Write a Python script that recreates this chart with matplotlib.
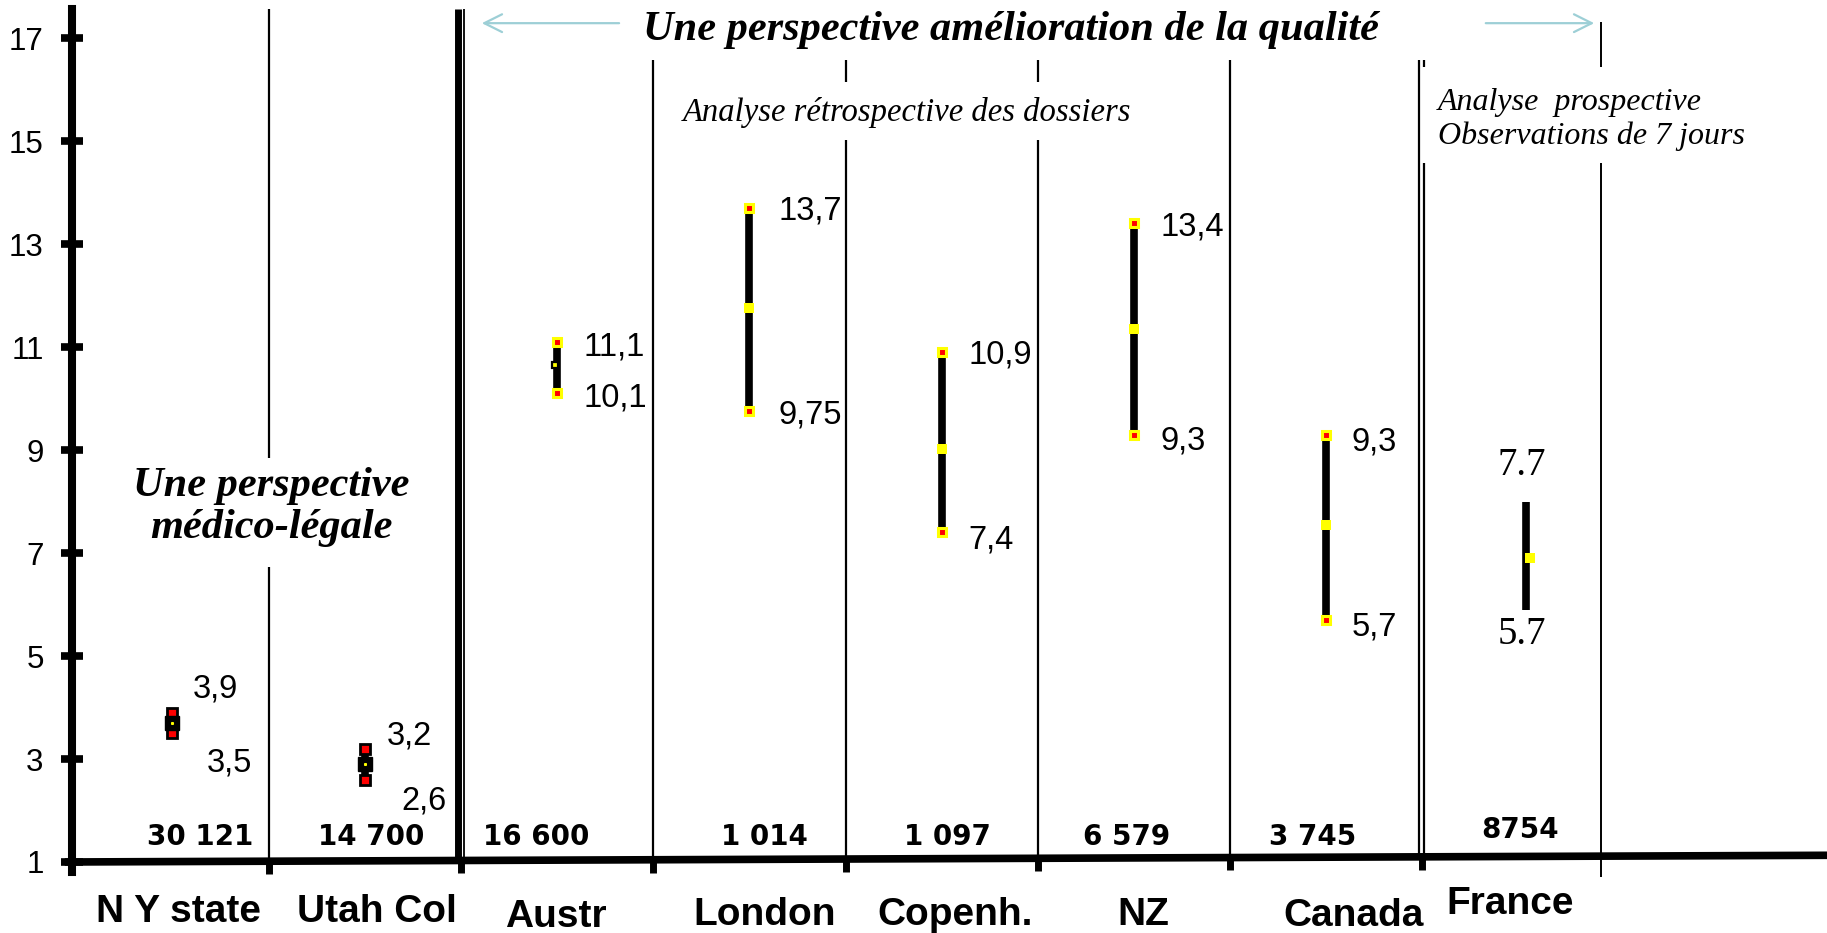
import matplotlib
matplotlib.use("Agg")
import matplotlib.pyplot as plt
import numpy as np

# ---------------- data ----------------
categories = ["N Y state", "Utah Col", "Austr", "London", "Copenh.", "NZ", "Canada", "France"]
low_vals = [3.5, 2.6, 10.1, 9.75, 7.4, 9.3, 5.7, 5.9]
high_vals = [3.9, 3.2, 11.1, 13.7, 10.9, 13.4, 9.3, 8.0]
mid_vals = [3.7, 2.9, 10.65, 11.75, 9.03, 11.35, 7.55, 6.9]
low_labels = ["3,5", "2,6", "10,1", "9,75", "7,4", "9,3", "5,7", "5.7"]
high_labels = ["3,9", "3,2", "11,1", "13,7", "10,9", "13,4", "9,3", "7.7"]
n_labels = ["30 121", "14 700", "16 600", "1 014", "1 097", "6 579", "3 745", "8754"]
yticks = [1, 3, 5, 7, 9, 11, 13, 15, 17]

# ---------------- layout ----------------
xpos = [0, 1, 2, 3, 4, 5, 6, 7.04]
hi_off = [(20, 24), (22, 13), (26, -5), (29, -3), (27, -3), (27, -4), (25, -7), (-4, 36)]
lo_off = [(34, -30), (37, -21), (26, -5), (29, -4), (27, -8), (27, -6), (25, -7), (-4, -25)]
n_off = [28, 6, -21, 15, 6, -7, -14, -6]
n_y = [1.49, 1.49, 1.49, 1.49, 1.49, 1.49, 1.49, 1.62]
cat_off = [(6, -50), (12, -50), (-1, -55), (15, -53), (13, -53), (9, -53), (27, -54), (-16, -42)]

BLUE = "#9dcfd6"
SANS = "Liberation Sans"
SERIF = "Liberation Serif"

fig = plt.figure(figsize=(18.27, 9.33), dpi=100)
ax = fig.add_axes([0, 0, 1, 1])
XL = (-0.897, 8.604)
ax.set_xlim(*XL)
ax.set_ylim(-0.379, 17.74)

for s in ["top", "right", "bottom"]:
    ax.spines[s].set_visible(False)
ax.spines["left"].set_position(("data", -0.52))
ax.spines["left"].set_linewidth(5.8)
ax.spines["left"].set_bounds(0.8, 17.57)
ax.set_xticks([])
ax.set_yticks(yticks)
ax.set_yticklabels([str(t) for t in yticks], fontfamily=SANS)
ax.tick_params(axis="y", direction="inout", length=15.6, width=5.5,
               labelsize=22.5, pad=13)
ax.patch.set_alpha(0)


def axis_y(x):
    return 1.0 + 0.13 * (x + 0.56) / (XL[1] + 0.56)


# tilted x axis
ax.plot([-0.56, XL[1]], [axis_y(-0.56), axis_y(XL[1])], color="black", lw=5.5,
        solid_capstyle="butt", zorder=3)

# separator lines (layout)
def vseg(x, segs, lw):
    for a, b in segs:
        if a is None:
            a = axis_y(x)
        ax.plot([x, x], [a, b], color="black", lw=lw, solid_capstyle="butt", zorder=2)

vseg(0.5, [(None, 6.73), (8.84, 17.57)], 1.6)
vseg(1.485, [(None, 17.57)], 5.0)
vseg(1.515, [(None, 17.57)], 1.3)
vseg(2.5, [(None, 16.57)], 1.6)
vseg(3.5, [(None, 15.02), (16.15, 16.57)], 1.6)
vseg(4.5, [(None, 15.02), (16.15, 16.57)], 1.6)
vseg(5.5, [(None, 16.57)], 1.6)
vseg(6.483, [(None, 16.57)], 1.6)
vseg(6.507, [(None, 14.57), (16.44, 16.57)], 1.6)
vseg(7.43, [(0.71, 14.57), (16.44, 17.31)], 1.4)

# ticks below the axis
for tx in [0.5, 1.5, 2.5, 3.5, 4.5, 5.5, 6.5]:
    ax.plot([tx, tx], [axis_y(tx) - 0.25, axis_y(tx)], color="black", lw=5,
            solid_capstyle="butt", zorder=3)

# ---------------- range bars ----------------
for i in range(len(categories)):
    x = xpos[i]
    ax.plot([x, x], [low_vals[i], high_vals[i]], color="black", lw=5.5,
            solid_capstyle="butt", zorder=4)
    if i < 2:
        ax.plot([x, x], [low_vals[i], high_vals[i]], ls="none", marker="s", ms=6.5,
                mfc="red", mec="black", mew=2, zorder=5)
        ax.plot([x], [mid_vals[i]], ls="none", marker="s", ms=9.5,
                mfc="black", mec="black", zorder=6)
        ax.plot([x], [mid_vals[i]], ls="none", marker="s", ms=1.2,
                mfc="yellow", mec="yellow", zorder=7)
    elif i < 7:
        ax.plot([x, x], [low_vals[i], high_vals[i]], ls="none", marker="s", ms=6,
                mfc="red", mec="yellow", mew=2.2, zorder=5)
        if i == 2:
            ax.plot([x - 0.01], [mid_vals[i]], ls="none", marker="s", ms=5,
                    mfc="yellow", mec="black", mew=1.6, zorder=6)
        else:
            ax.plot([x], [mid_vals[i]], ls="none", marker="s", ms=7,
                    mfc="yellow", mec="yellow", mew=0, zorder=6)
    else:
        ax.plot([x + 0.02], [mid_vals[i]], ls="none", marker="s", ms=7,
                mfc="yellow", mec="yellow", mew=0, zorder=6)

    # value labels
    if i < 7:
        kw = dict(fontsize=23.5, fontfamily=SANS, ha="left", va="center")
    else:
        kw = dict(fontsize=28, fontfamily=SERIF, ha="center", va="center")
    ax.annotate(high_labels[i], (x, high_vals[i]), xytext=hi_off[i],
                textcoords="offset pixels", zorder=8, **kw)
    ax.annotate(low_labels[i], (x, low_vals[i]), xytext=lo_off[i],
                textcoords="offset pixels", zorder=8, **kw)

    # sample sizes
    ax.annotate(n_labels[i], (x, n_y[i]), xytext=(n_off[i], 0),
                textcoords="offset pixels", ha="center", va="center",
                fontsize=20, fontweight="bold", fontfamily="DejaVu Sans", zorder=8)

    # category labels
    ax.annotate(categories[i], (x, 1.0), xytext=cat_off[i],
                textcoords="offset pixels", ha="center", va="center",
                fontsize=28, fontweight="bold", fontfamily=SANS,
                annotation_clip=False, zorder=8)

# ---------------- annotations ----------------
ax.text(4.36, 16.97, "Une perspective amélioration de la qualité", ha="center",
        va="baseline", fontsize=30.5, fontweight="bold", fontstyle="italic",
        fontfamily=SERIF, zorder=8)
ax.annotate("", xy=(1.594, 17.29), xytext=(2.337, 17.29),
            arrowprops=dict(arrowstyle="->", color=BLUE, lw=1.6, mutation_scale=32))
ax.annotate("", xy=(7.408, 17.29), xytext=(6.815, 17.29),
            arrowprops=dict(arrowstyle="->", color=BLUE, lw=1.6, mutation_scale=32))

ax.text(3.82, 15.55, "Analyse rétrospective des dossiers", ha="center", va="center",
        fontsize=23.5, fontstyle="italic", fontfamily=SERIF, zorder=8)
ax.text(6.58, 15.42, "Analyse  prospective\nObservations de 7 jours", ha="left",
        va="center", fontsize=23, fontstyle="italic", fontfamily=SERIF,
        linespacing=1.2, zorder=8)
ax.text(0.515, 7.9, "Une perspective\nmédico-légale", ha="center", va="center",
        fontsize=30.5, fontweight="bold", fontstyle="italic", fontfamily=SERIF,
        linespacing=1.15, zorder=8)

fig.savefig("out.png", dpi=100)
